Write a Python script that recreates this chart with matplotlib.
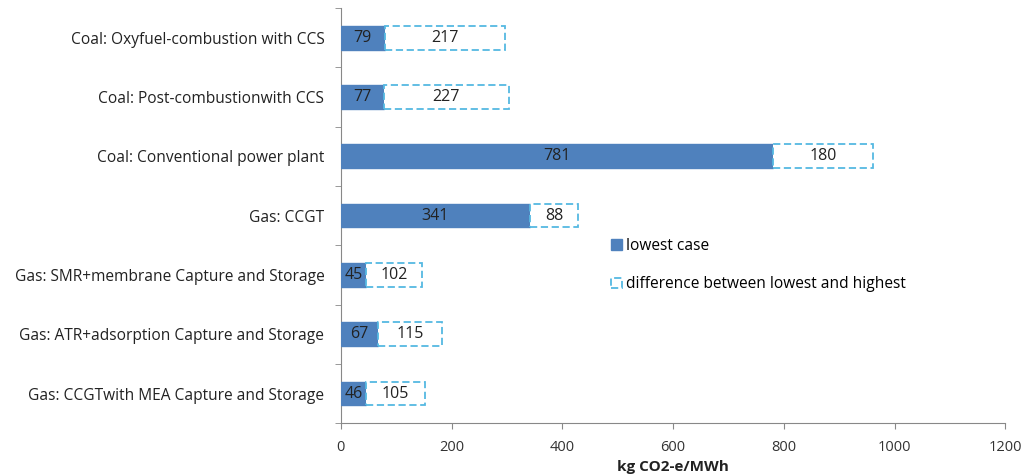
import matplotlib
matplotlib.use("Agg")
import matplotlib.pyplot as plt
import numpy as np

categories = [
    "Coal: Oxyfuel-combustion with CCS",
    "Coal: Post-combustionwith CCS",
    "Coal: Conventional power plant",
    "Gas: CCGT",
    "Gas: SMR+membrane Capture and Storage",
    "Gas: ATR+adsorption Capture and Storage",
    "Gas: CCGTwith MEA Capture and Storage",
]
lowest = [79, 77, 781, 341, 45, 67, 46]
difference = [217, 227, 180, 88, 102, 115, 105]
xticks = [0, 200, 400, 600, 800, 1000, 1200]

plt.rcParams['font.family'] = ['Open Sans', 'DejaVu Sans']

fig = plt.figure(figsize=(10.3, 4.76), dpi=100)
ax = fig.add_axes([0.331, 0.111, 0.645, 0.872])

n = len(categories)
y = np.arange(n)[::-1]
h = 0.4
blue = "#4F81BD"
cyan = "#55B9E2"

b1 = ax.barh(y, lowest, height=h, color=blue, edgecolor=blue, label="lowest case", zorder=3)
b2 = ax.barh(y, difference, left=lowest, height=h, color="white", edgecolor=cyan,
             linestyle=(0, (4, 2)), linewidth=1.3, label="difference between lowest and highest", zorder=3)

for yi, lo, d in zip(y, lowest, difference):
    ax.text(lo / 2, yi, str(lo), ha="center", va="center", fontsize=11.5, color="#222222", zorder=4)
    ax.text(lo + d / 2, yi, str(d), ha="center", va="center", fontsize=11.5, color="#222222", zorder=4)

ax.set_xlim(0, 1200)
ax.set_ylim(-0.5, n - 0.5)
ax.set_xticks(xticks)
ax.set_xticklabels([str(t) for t in xticks], fontsize=10.5, color="#333333")
ax.set_yticks(y)
ax.set_yticklabels(categories, fontsize=11.2, color="#222222")
ax.tick_params(axis="y", length=0, pad=12)
ax.set_yticks(np.arange(-0.5, n, 1.0), minor=True)
ax.tick_params(axis="y", which="minor", length=4, color="#888888")
ax.tick_params(axis="x", length=4, color="#888888", pad=8)
ax.set_xlabel("kg CO2-e/MWh", fontsize=11, fontweight="bold", color="#222222", labelpad=4)

for s in ["top", "right"]:
    ax.spines[s].set_visible(False)
for s in ["left", "bottom"]:
    ax.spines[s].set_color("#888888")

leg = ax.legend(handles=[b1, b2], loc="upper left", bbox_to_anchor=(0.385, 0.48),
                frameon=False, fontsize=11.2, handlelength=0.7, handleheight=0.7,
                handletextpad=0.3, labelspacing=1.45)

fig.savefig("out.png", dpi=100)
